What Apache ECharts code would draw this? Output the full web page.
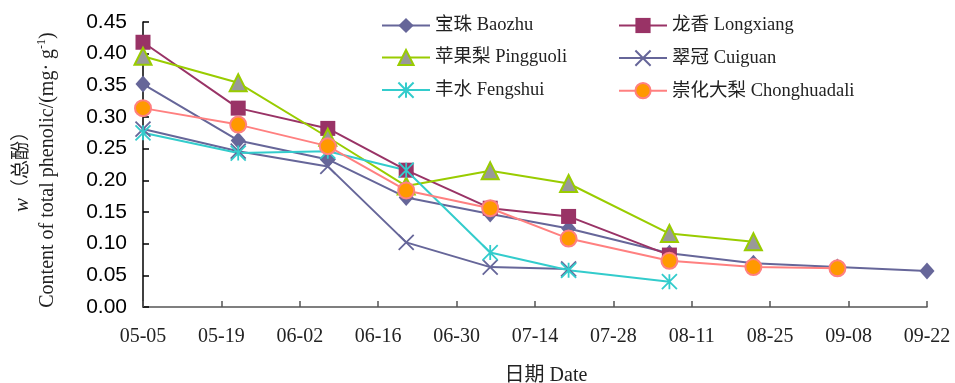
<!DOCTYPE html>
<html>
<head>
<meta charset="utf-8">
<script src="https://cdn.jsdelivr.net/npm/echarts@6/dist/echarts.min.js"></script>
<style>html,body{margin:0;padding:0;background:#fff}#c{width:955px;height:383px}</style>
</head>
<body>
<div id="c"></div>
<script>
const tickLabels = ['05-05','05-19','06-02','06-16','06-30','07-14','07-28','08-11','08-25','09-08','09-22'];
const sampleDays = [0, 17, 33, 47, 62, 76, 94, 109, 124, 140];
const baozhu     = [0.352, 0.263, 0.233, 0.173, 0.147, 0.124, 0.085, 0.069, 0.063, 0.057];
const longxiang  = [0.418, 0.314, 0.282, 0.216, 0.156, 0.143, 0.082];
const pingguoli  = [0.396, 0.354, 0.268, 0.191, 0.215, 0.195, 0.116, 0.103];
const cuiguan    = [0.281, 0.246, 0.222, 0.102, 0.063, 0.060];
const fengshui   = [0.275, 0.243, 0.246, 0.216, 0.086, 0.058, 0.040];
const chonghua   = [0.314, 0.288, 0.254, 0.184, 0.156, 0.108, 0.073, 0.063, 0.061];
const names = ['宝珠 Baozhu','龙香 Longxiang','苹果梨 Pingguoli','翠冠 Cuiguan','丰水 Fengshui','崇化大梨 Chonghuadali'];

const pts = arr => arr.map((v, i) => [sampleDays[i], v]);
const SERIF = "'Liberation Serif','Noto Sans CJK SC',serif";

const X_PATH = 'path://M0,0L10,10M10,0L0,10';
const STAR_PATH = 'path://M5,0L5,10M0,0L10,10M10,0L0,10';

function mk(name, data, lineColor, symbol, size, itemStyle, z) {
  return {
    name, type: 'line', data: pts(data), symbol, symbolSize: size, z,
    lineStyle: { color: lineColor, width: 2 },
    itemStyle, emphasis: { disabled: true }, animation: false
  };
}

const chart = echarts.init(document.getElementById('c'), null, { renderer: 'canvas' });
const legendCommon = {
  orient: 'vertical', top: 11, itemWidth: 48, itemHeight: 19, itemGap: 13,
  textStyle: { fontFamily: SERIF, fontSize: 18.5, color: '#222', lineHeight: 19 },
  selectedMode: false
};
chart.setOption({
  backgroundColor: '#fff',
  animation: false,
  grid: { left: 143, right: 28, top: 22, bottom: 76, containLabel: false },
  legend: [
    Object.assign({}, legendCommon, { left: 376, data: [names[0], names[2], names[4]] }),
    Object.assign({}, legendCommon, { left: 613, data: [names[1], names[3], names[5]] })
  ],
  xAxis: {
    type: 'value', min: 0, max: 140, interval: 14,
    axisLine: { show: true, lineStyle: { color: '#555', width: 1.5 } },
    axisTick: { show: true, inside: true, length: 6, lineStyle: { color: '#555', width: 1.5 } },
    axisLabel: {
      fontFamily: SERIF, fontSize: 20, color: '#222', margin: 20,
      formatter: v => tickLabels[Math.round(v / 14)]
    },
    splitLine: { show: false }
  },
  yAxis: {
    type: 'value', min: 0, max: 0.45, interval: 0.05,
    axisLine: { show: true, lineStyle: { color: '#000', width: 1.5 } },
    axisTick: { show: true, inside: true, length: 6, lineStyle: { color: '#000', width: 1.5 } },
    axisLabel: {
      fontFamily: "'Liberation Sans',Arial,sans-serif", fontSize: 21, color: '#000', margin: 16,
      formatter: v => v.toFixed(2)
    },
    splitLine: { show: false }
  },
  graphic: [
    {
      type: 'text', x: 546, y: 376,
      style: { text: '日期 Date', font: "20px " + SERIF, fill: '#222', align: 'center', verticalAlign: 'middle' }
    },
    {
      type: 'text', x: 22, y: 167, rotation: Math.PI / 2,
      style: {
        text: '{i|w}{n|（总酚）}', align: 'center', verticalAlign: 'middle',
        rich: {
          i: { fontFamily: SERIF, fontSize: 21, fontStyle: 'italic', fill: '#222' },
          n: { fontFamily: SERIF, fontSize: 19, fill: '#222' }
        }
      }
    },
    {
      type: 'text', x: 48, y: 170, rotation: Math.PI / 2,
      style: {
        text: '{a|Content of total phenolic/(mg· g}{s|-1}{a|)}', align: 'center', verticalAlign: 'middle',
        rich: {
          a: { fontFamily: SERIF, fontSize: 20, fill: '#222', lineHeight: 24 },
          s: { fontFamily: SERIF, fontSize: 12, fill: '#222', verticalAlign: 'top', lineHeight: 24, padding: [0, 0, 10, 0] }
        }
      }
    }
  ],
  series: [
    mk(names[0], baozhu, '#666699', 'diamond', [15, 17], { color: '#666699', borderColor: '#666699', borderWidth: 0 }, 2),
    mk(names[1], longxiang, '#993366', 'rect', 15, { color: '#993366', borderColor: '#993366', borderWidth: 0 }, 2),
    mk(names[2], pingguoli, '#99CC00', 'triangle', 17, { color: '#999999', borderColor: '#99CC00', borderWidth: 2 }, 2),
    mk(names[3], cuiguan, '#666699', X_PATH, 15, { color: 'none', borderColor: '#666699', borderWidth: 1.8 }, 2),
    mk(names[4], fengshui, '#33CCCC', STAR_PATH, 15, { color: 'none', borderColor: '#33CCCC', borderWidth: 1.8 }, 2),
    mk(names[5], chonghua, '#FF8080', 'circle', 16, { color: '#FF9900', borderColor: '#FF8080', borderWidth: 2 }, 2)
  ]
});
</script>
</body>
</html>
